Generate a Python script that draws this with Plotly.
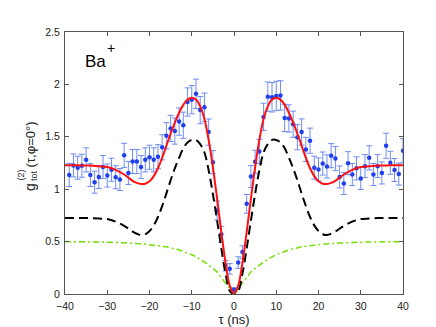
import plotly.graph_objects as go

# measured data (tau in ns)
tau = list(range(-39, 41))
g2 = [1.136, 1.227, 1.205, 1.224, 1.28, 1.136, 1.067, 1.117, 1.211, 1.13,
      1.186, 1.114, 1.092, 1.323, 1.155, 1.264, 1.264, 1.211, 1.28, 1.305,
      1.28, 1.31, 1.40, 1.51, 1.58, 1.555, 1.645, 1.61, 1.832, 1.854,
      1.91, 1.755, 1.782, 1.545, 1.258, 0.797, 0.571, 0.27, 0.24, 0.04,
      0.30, 0.40, 0.86, 1.12, 1.262, 1.36, 1.69, 1.883, 1.877, 1.89,
      1.895, 1.68, 1.675, 1.62, 1.496, 1.546, 1.38, 1.463, 1.205, 1.189,
      1.245, 1.217, 1.32, 1.292, 1.117, 1.055, 1.248, 1.14, 1.199, 1.102,
      1.22, 1.299, 1.14, 1.22, 1.155, 1.414, 1.252, 1.183, 1.145, 1.367]
g2_err = [0.11, 0.11, 0.11, 0.11, 0.115, 0.11, 0.105, 0.11, 0.11, 0.11,
          0.11, 0.11, 0.105, 0.115, 0.11, 0.115, 0.115, 0.11, 0.115, 0.115,
          0.115, 0.115, 0.12, 0.125, 0.125, 0.125, 0.13, 0.125, 0.135, 0.135,
          0.14, 0.13, 0.135, 0.125, 0.11, 0.09, 0.075, 0.05, 0.05, 0.02,
          0.055, 0.06, 0.09, 0.105, 0.11, 0.115, 0.13, 0.14, 0.14, 0.14,
          0.14, 0.13, 0.13, 0.125, 0.12, 0.125, 0.115, 0.12, 0.11, 0.11,
          0.11, 0.11, 0.115, 0.115, 0.105, 0.105, 0.11, 0.105, 0.11, 0.105,
          0.11, 0.115, 0.105, 0.11, 0.105, 0.12, 0.11, 0.11, 0.105, 0.115]

# model curves
curve_tau = [-40, -38, -36, -34, -32, -30, -28, -26, -24, -23, -22, -21, -20,
             -19, -18, -17, -16, -15, -14, -13, -12, -11, -10, -9, -8, -7, -6,
             -5, -4, -3, -2, -1, 0, 1, 2, 3, 4, 5, 6, 7, 8, 9, 10, 11, 12, 13,
             14, 15, 16, 17, 18, 19, 20, 21, 22, 23, 24, 26, 28, 30, 32, 34,
             36, 38, 40]
total_fit = [1.228, 1.228, 1.227, 1.225, 1.218, 1.212, 1.185, 1.14, 1.08, 1.06,
             1.05, 1.052, 1.075, 1.125, 1.2, 1.3, 1.415, 1.53, 1.635, 1.73,
             1.805, 1.855, 1.873, 1.855, 1.79, 1.67, 1.47, 1.21, 0.91, 0.59,
             0.30, 0.08, 0.0, 0.08, 0.30, 0.59, 0.91, 1.21, 1.47, 1.67, 1.79,
             1.855, 1.873, 1.855, 1.805, 1.73, 1.635, 1.53, 1.415, 1.3, 1.2,
             1.125, 1.075, 1.052, 1.05, 1.06, 1.08, 1.14, 1.185, 1.212, 1.218,
             1.225, 1.227, 1.228, 1.228]
coherent = [0.726, 0.726, 0.726, 0.725, 0.72, 0.715, 0.69, 0.65, 0.596, 0.575,
            0.563, 0.57, 0.6, 0.655, 0.735, 0.84, 0.96, 1.085, 1.2, 1.3,
            1.39, 1.445, 1.47, 1.47, 1.43, 1.35, 1.18, 0.955, 0.70, 0.435,
            0.195, 0.03, 0.0, 0.03, 0.195, 0.435, 0.70, 0.955, 1.18, 1.35,
            1.43, 1.47, 1.47, 1.445, 1.39, 1.3, 1.2, 1.085, 0.96, 0.84, 0.735,
            0.655, 0.6, 0.57, 0.563, 0.575, 0.596, 0.65, 0.69, 0.715, 0.72,
            0.725, 0.726, 0.726, 0.726]
incoherent = [0.5, 0.499, 0.498, 0.497, 0.496, 0.494, 0.492, 0.488, 0.484,
              0.481, 0.478, 0.475, 0.47, 0.465, 0.46, 0.455, 0.45, 0.44, 0.43,
              0.42, 0.405, 0.39, 0.375, 0.355, 0.33, 0.305, 0.275, 0.245,
              0.21, 0.155, 0.105, 0.05, 0.0, 0.05, 0.105, 0.155, 0.21, 0.245,
              0.275, 0.305, 0.33, 0.355, 0.375, 0.39, 0.405, 0.42, 0.43, 0.44,
              0.45, 0.455, 0.46, 0.465, 0.47, 0.475, 0.478, 0.481, 0.484,
              0.488, 0.492, 0.494, 0.496, 0.497, 0.498, 0.499, 0.5]

x_ticks = [-40, -30, -20, -10, 0, 10, 20, 30, 40]
y_ticks = [0, 0.5, 1, 1.5, 2, 2.5]
y_tick_text = ["0", "0.5", "1", "1.5", "2", "2.5"]

FONT = "Liberation Sans, Arial, sans-serif"

fig = go.Figure()
fig.add_trace(go.Scatter(
    x=tau, y=g2, mode="markers",
    marker=dict(color="#2040f0", size=4.5),
    error_y=dict(type="data", array=g2_err, color="#6f8cf0",
                 thickness=1, width=3),
    showlegend=False))
fig.add_trace(go.Scatter(
    x=curve_tau, y=incoherent, mode="lines", line_shape="spline",
    line=dict(color="#70e000", width=1.5, dash="6px,3px,2px,3px"),
    showlegend=False))
fig.add_trace(go.Scatter(
    x=curve_tau, y=coherent, mode="lines", line_shape="spline",
    line=dict(color="#000000", width=2, dash="9px,5px"),
    showlegend=False))
fig.add_trace(go.Scatter(
    x=curve_tau, y=total_fit, mode="lines", line_shape="spline",
    line=dict(color="#ff1010", width=2),
    showlegend=False))

axis_common = dict(showline=True, linecolor="#555555", linewidth=1,
                   mirror="ticks", ticks="inside", ticklen=4,
                   tickcolor="#555555", showgrid=False, zeroline=False,
                   tickfont=dict(family=FONT, size=10.5, color="#222222"))

fig.update_xaxes(range=[-40, 40], tickvals=x_ticks, ticklabelstandoff=2,
                 title=dict(text="τ (ns)", standoff=2,
                            font=dict(family=FONT, size=13, color="#222222")),
                 **axis_common)
fig.update_yaxes(range=[0, 2.5], tickvals=y_ticks, ticktext=y_tick_text,
                 ticklabelstandoff=2, **axis_common)

def px_x(px):
    return (px - 57) / 338.0

def px_y(py):
    return (291 - py) / 267.0

lab_font = dict(family=FONT, size=13, color="#222222")
small_font = dict(family=FONT, size=9, color="#222222")
annotations = [
    dict(text="g", x=px_x(22), y=px_y(188), xanchor="center", yanchor="bottom",
         textangle=-90, font=dict(family=FONT, size=14, color="#222222")),
    dict(text="(2)", x=px_x(13), y=px_y(178), xanchor="center", yanchor="bottom",
         textangle=-90, font=small_font),
    dict(text="tot", x=px_x(25.5), y=px_y(178), xanchor="center", yanchor="bottom",
         textangle=-90, font=small_font),
    dict(text="(τ,φ=0°)", x=px_x(22), y=px_y(164), xanchor="center",
         yanchor="bottom", textangle=-90, font=lab_font),
    dict(text="Ba", x=px_x(75), y=px_y(66), xanchor="left",
         yanchor="bottom", font=dict(family=FONT, size=17, color="#000000")),
    dict(text="+", x=px_x(96.5), y=px_y(51), xanchor="left",
         yanchor="bottom", font=dict(family=FONT, size=14, color="#000000")),
]
for a in annotations:
    a.update(xref="paper", yref="paper", showarrow=False)

fig.update_layout(
    width=436, height=327,
    margin=dict(l=57, r=41, t=24, b=36),
    paper_bgcolor="white", plot_bgcolor="white",
    annotations=annotations,
)

fig.write_html("out.html")
